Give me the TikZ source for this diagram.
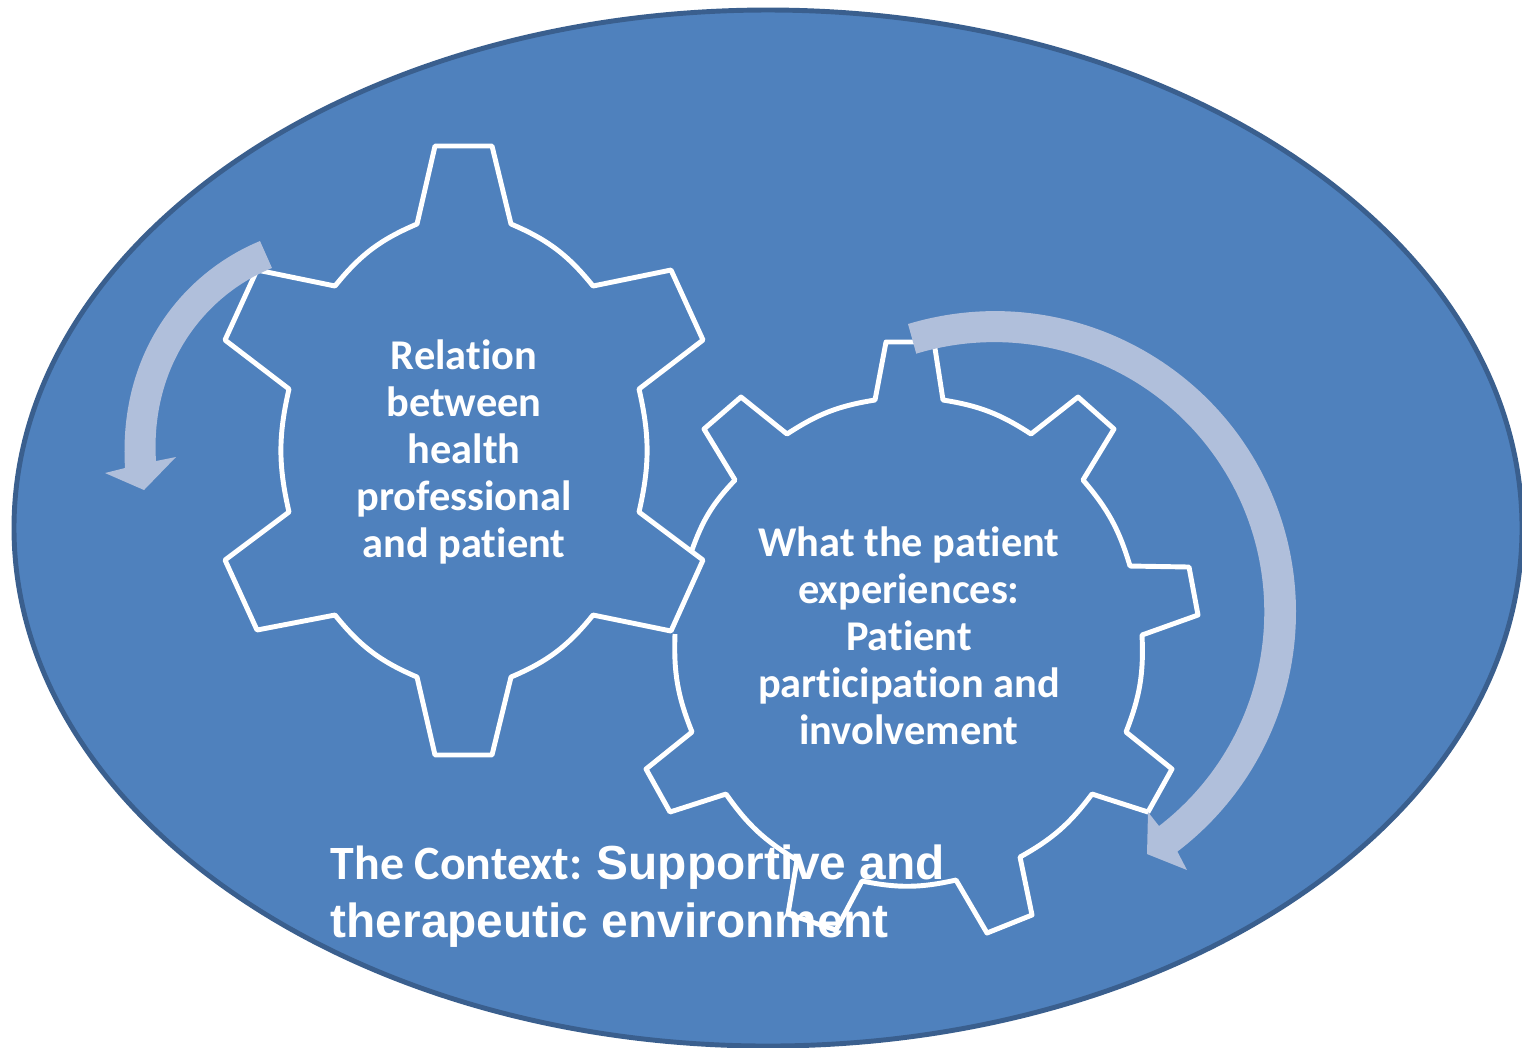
\documentclass[tikz,border=0pt]{standalone}
\usepackage{fontspec}
\usepackage{tikz}
\setmainfont{Carlito}[Ligatures=NoCommon]
\newfontfamily\contextfont{Liberation Sans}
\definecolor{ovalfill}{HTML}{4F81BD}
\definecolor{ovalline}{HTML}{3A5F8E}
\definecolor{turnfill}{HTML}{B0BFDB}
\tikzset{
  gearline/.style={draw=white,line width=1.4pt,line join=round},
  gearlabel/.style={text=white,align=center,font=\fontsize{12.05}{13.35}\selectfont\bfseries},
  turnarrow/.style={fill=turnfill,draw=none}
}

\begin{document}
\begin{tikzpicture}[x=0.01cm,y=-0.01cm]
\useasboundingbox (0,0) rectangle (1522,1047);
\draw [fill=ovalfill,draw=ovalline,line width=1.4pt] (768,528) ellipse [x radius=754,y radius=518];
\draw [gearline] (435,146) -- (492,146) -- (511,224) to[bend left=14] (593,286) -- (671,270) -- (703,340) -- (639,389) to[bend left=13] (639,512) -- (703,560) -- (671,631) -- (593,615) to[bend left=14] (511,677) -- (492,755) -- (435,755) -- (417,677) to[bend left=14] (335,615) -- (257,630) -- (225,560) -- (289,512) to[bend left=13] (289,389) -- (225,340) -- (257,270) -- (335,286) to[bend left=14] (417,224) -- cycle;
\draw [gearline] (692,550) to[bend left=12] (735,480) -- (704,429) -- (741,397) -- (787,434) to[bend left=12] (875,400) -- (886,342) -- (934,342) -- (943,400) to[bend left=12] (1031,434) -- (1078,397) -- (1114,429) -- (1083,480) to[bend left=12] (1130,566) -- (1189,567) -- (1198,615) -- (1142,635) to[bend left=12] (1126,732) -- (1172,769) -- (1148,812) -- (1092,794) to[bend left=12] (1020,857) -- (1032,915) -- (987,933) -- (956,880) to[bend left=12] (862,881) -- (836,930) -- (788,914) -- (797,860) to[bend left=12] (726,794) -- (670,812) -- (646,769) -- (692,732) to[bend left=12] (675,634);
\fill [turnarrow] (260,241) .. controls (185,272) and (118,350) .. (125,468) -- (105,473) -- (144,490) -- (176,457) -- (156,461) .. controls (150,365) and (205,295) .. (272,268) -- cycle;
\fill [turnarrow] (908,324) arc [start angle=-106.8,end angle=52.7,radius=301] -- (1187,870) -- (1147,854) -- (1148,812) -- (1159,826) arc [start angle=52.4,end angle=-106.8,radius=270] -- cycle;
\node[gearlabel] (R) at (464,452) {Relation\\between\\health\\professional\\and patient};
\node[gearlabel] (W) at (909,636) {What the patient\\experiences:\\Patient\\participation and\\involvement};
\node[anchor=north west,inner sep=0pt,text=white,align=left,font=\fontsize{13.6}{16.6}\selectfont\bfseries] (C) at (330,844) {The Context: {\contextfont Supportive and}\\{\contextfont therapeutic environment}};
\end{tikzpicture}
\end{document}
